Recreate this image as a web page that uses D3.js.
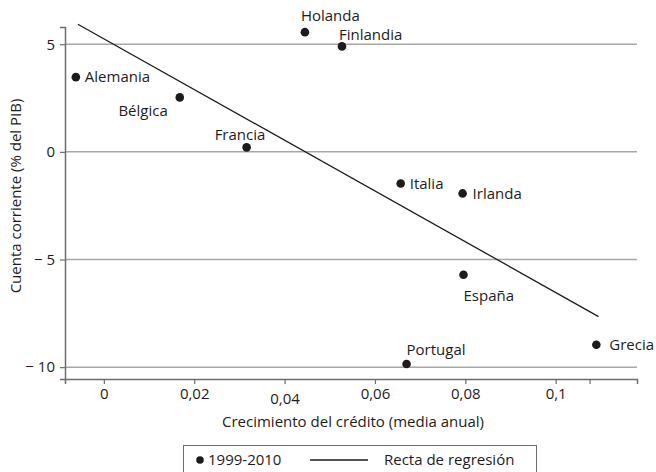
<!DOCTYPE html>
<html>
<head>
<meta charset="utf-8">
<script src="https://cdn.jsdelivr.net/npm/d3@7"></script>
<style>
  body { margin: 0; background: #fff; }
  text { font-family: "Open Sans", sans-serif; fill: #1f1b1c; }
</style>
</head>
<body>
<div id="chart"></div>
<script>
// datos
var paises = ['Holanda', 'Finlandia', 'Alemania', 'Bélgica', 'Francia', 'Italia', 'Irlanda', 'España', 'Portugal', 'Grecia'];
var credito = [0.0445, 0.0527, -0.0062, 0.0168, 0.0316, 0.0657, 0.0794, 0.0796, 0.067, 0.109];
var cuenta = [5.56, 4.9, 3.47, 2.53, 0.21, -1.47, -1.93, -5.71, -9.85, -8.96];
// posicion de etiquetas: dx, dy respecto del punto
var etiq_dx = [-4, -3, 9, -12, -32, 9, 10, 0, 0, 13];
var etiq_dy = [-16, -12, 0, 13, -13, 0, 0, 21, -14, 0];
var etiq_anchor = ['start', 'start', 'start', 'end', 'start', 'start', 'start', 'start', 'start', 'start'];

var recta_x = [-0.00575, 0.1095];
var recta_y = [5.93, -7.65];

var x_ticks = [0, 0.02, 0.04, 0.06, 0.08, 0.1, 0.1075];
var x_labels = ['0', '0,02', '0,04', '0,06', '0,08', '0,1', ''];
var y_ticks = [5, 0, -5, -10];
var y_labels = ['5', '0', '\u2212 5', '\u2212 10'];

var chart_width = 656;
var chart_height = 472;
var fs = '15px';

var svg = d3.select('#chart')
    .append('svg')
    .attr('width', chart_width)
    .attr('height', chart_height);

// escalas
var x_scale = d3.scaleLinear()
    .domain([-0.0086, 0.1180])
    .range([65, 637]);

var y_scale = d3.scaleLinear()
    .domain([-10.55, 5.8])
    .range([379, 27]);

// lineas de rejilla
svg.selectAll('.grid')
    .data(y_ticks)
    .enter()
    .append('line')
    .attr('class', 'grid')
    .attr('x1', 65)
    .attr('x2', 637)
    .attr('y1', function (d) { return y_scale(d); })
    .attr('y2', function (d) { return y_scale(d); })
    .attr('stroke', '#a7a7a7')
    .attr('stroke-width', 1.5);

// eje x
var x_axis = d3.axisBottom(x_scale)
    .tickValues(x_ticks)
    .tickSize(5)
    .tickPadding(5)
    .tickFormat(function (d, i) { return x_labels[i]; });

var gx = svg.append('g')
    .attr('transform', 'translate(0,379)')
    .call(x_axis);
gx.select('.domain').attr('stroke', '#6d6d6d').attr('stroke-width', 1.5);
gx.selectAll('.tick line').attr('stroke', '#6d6d6d').attr('stroke-width', 1.2);
gx.selectAll('.tick text')
    .style('font-size', fs)
    .attr('dy', function (d, i) { return i == 2 ? '1.0em' : '0.66em'; });

// eje y
var y_axis = d3.axisLeft(y_scale)
    .tickValues(y_ticks)
    .tickSize(5)
    .tickPadding(5)
    .tickFormat(function (d, i) { return y_labels[i]; });

var gy = svg.append('g')
    .attr('transform', 'translate(65,0)')
    .call(y_axis);
gy.select('.domain').attr('stroke', '#6d6d6d').attr('stroke-width', 1.5);
gy.selectAll('.tick line').attr('stroke', '#6d6d6d').attr('stroke-width', 1.2);
gy.selectAll('.tick text').style('font-size', fs);

// recta de regresion
svg.append('line')
    .attr('x1', x_scale(recta_x[0]))
    .attr('y1', y_scale(recta_y[0]))
    .attr('x2', x_scale(recta_x[1]))
    .attr('y2', y_scale(recta_y[1]))
    .attr('stroke', '#1f1b1c')
    .attr('stroke-width', 1.3);

// puntos
svg.selectAll('circle.p')
    .data(paises)
    .enter()
    .append('circle')
    .attr('class', 'p')
    .attr('cx', function (d, i) { return x_scale(credito[i]); })
    .attr('cy', function (d, i) { return y_scale(cuenta[i]); })
    .attr('r', 4.3)
    .attr('fill', '#1f1b1c');

// rotulos
svg.selectAll('text.lab')
    .data(paises)
    .enter()
    .append('text')
    .attr('class', 'lab')
    .text(function (d) { return d; })
    .attr('x', function (d, i) { return x_scale(credito[i]) + etiq_dx[i]; })
    .attr('y', function (d, i) { return y_scale(cuenta[i]) + etiq_dy[i]; })
    .attr('text-anchor', function (d, i) { return etiq_anchor[i]; })
    .attr('dy', '0.35em')
    .style('font-size', fs);

// titulos
svg.append('text')
    .attr('x', 353)
    .attr('y', 427)
    .attr('text-anchor', 'middle')
    .style('font-size', fs)
    .text('Crecimiento del crédito (media anual)');

svg.append('text')
    .attr('transform', 'translate(21,196) rotate(-90)')
    .attr('text-anchor', 'middle')
    .style('font-size', fs)
    .text('Cuenta corriente (% del PIB)');

// leyenda
svg.append('rect')
    .attr('x', 183.5)
    .attr('y', 445.5)
    .attr('width', 353)
    .attr('height', 40)
    .attr('fill', 'none')
    .attr('stroke', '#6d6d6d')
    .attr('stroke-width', 1);

svg.append('circle')
    .attr('cx', 200)
    .attr('cy', 460)
    .attr('r', 3.8)
    .attr('fill', '#1f1b1c');

svg.append('text')
    .attr('x', 208)
    .attr('y', 460)
    .attr('dy', '0.35em')
    .style('font-size', fs)
    .text('1999-2010');

svg.append('line')
    .attr('x1', 310)
    .attr('x2', 368)
    .attr('y1', 460)
    .attr('y2', 460)
    .attr('stroke', '#1f1b1c')
    .attr('stroke-width', 1.3);

svg.append('text')
    .attr('x', 384)
    .attr('y', 460)
    .attr('dy', '0.35em')
    .style('font-size', fs)
    .text('Recta de regresión');
</script>
</body>
</html>
